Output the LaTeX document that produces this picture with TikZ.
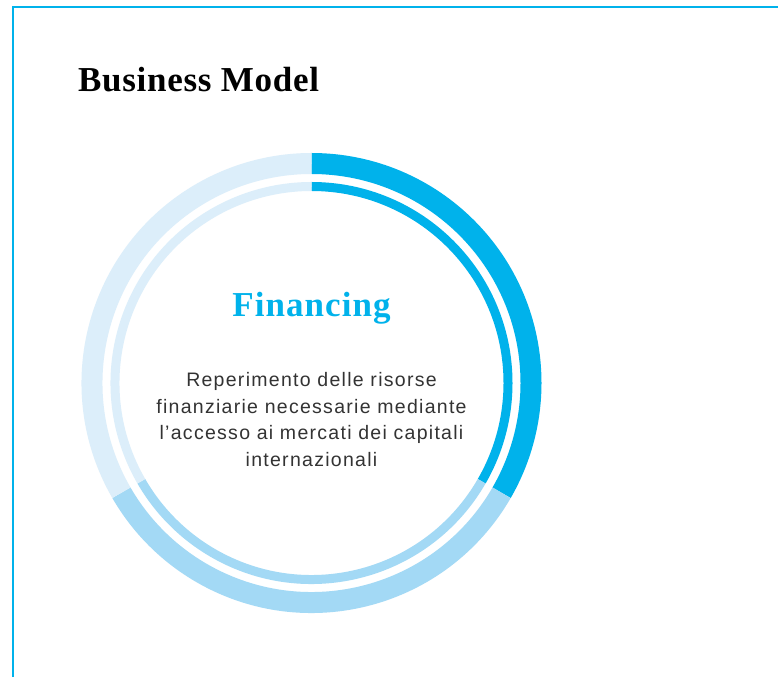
\documentclass[tikz,border=0pt]{standalone}
\usepackage{fontspec}
\setmainfont{Liberation Serif}
\newfontfamily\bodyfont{Liberation Sans}[LetterSpace=6.6]
\newfontfamily\headfont{Liberation Serif}[LetterSpace=2]
\newfontfamily\finfont{Liberation Serif}[LetterSpace=3]
\definecolor{cyanA}{HTML}{00B2EB}
\definecolor{blueB}{HTML}{A3D9F5}
\definecolor{blueC}{HTML}{DCEEFA}
\definecolor{bodygray}{HTML}{333333}
\tikzset{
  frameline/.style={draw=cyanA, line width=2pt},
  outerring/.style={line width=21pt, line cap=butt},
  innerring/.style={line width=9pt, line cap=butt},
  bodyline/.style={anchor=base, inner sep=0pt, text=bodygray, font=\bodyfont\fontsize{19.5}{26}\selectfont},
}
\begin{document}
\begin{tikzpicture}[x=1pt,y=1pt]
\useasboundingbox (0,0) rectangle (778,677);
\fill[white] (0,0) rectangle (778,677);
% frame
\coordinate (fb) at (13,0);
\coordinate (fc) at (13,670);
\coordinate (fr) at (778,670);
\draw[frameline] (fb) -- (fc) -- (fr);
% ring
\coordinate (c) at (311.5,294);
\draw[outerring, cyanA] ([shift={(90:219.5pt)}]c) arc[start angle=90, end angle=-30, radius=219.5pt];
\draw[outerring, blueB] ([shift={(-30:219.5pt)}]c) arc[start angle=-30, end angle=-150, radius=219.5pt];
\draw[outerring, blueC] ([shift={(210:219.5pt)}]c) arc[start angle=210, end angle=90, radius=219.5pt];
\draw[innerring, cyanA] ([shift={(90:196.5pt)}]c) arc[start angle=90, end angle=-30, radius=196.5pt];
\draw[innerring, blueB] ([shift={(-30:196.5pt)}]c) arc[start angle=-30, end angle=-150, radius=196.5pt];
\draw[innerring, blueC] ([shift={(210:196.5pt)}]c) arc[start angle=210, end angle=90, radius=196.5pt];
% texts
\node[anchor=base west, inner sep=0pt, font=\headfont\bfseries\fontsize{35}{40}\selectfont] (title) at (78,585) {Business Model};
\node[anchor=base, inner sep=0pt, text=cyanA, font=\finfont\bfseries\fontsize{35}{40}\selectfont] (fin) at (311.5,360) {Financing};
\node[bodyline] (l1) at (311.5,290) {Reperimento delle risorse};
\node[bodyline] (l2) at (311.5,263.5) {finanziarie necessarie mediante};
\node[bodyline] (l3) at (311.5,237) {l’accesso ai mercati dei capitali};
\node[bodyline] (l4) at (311.5,210.5) {internazionali};
\end{tikzpicture}
\end{document}
